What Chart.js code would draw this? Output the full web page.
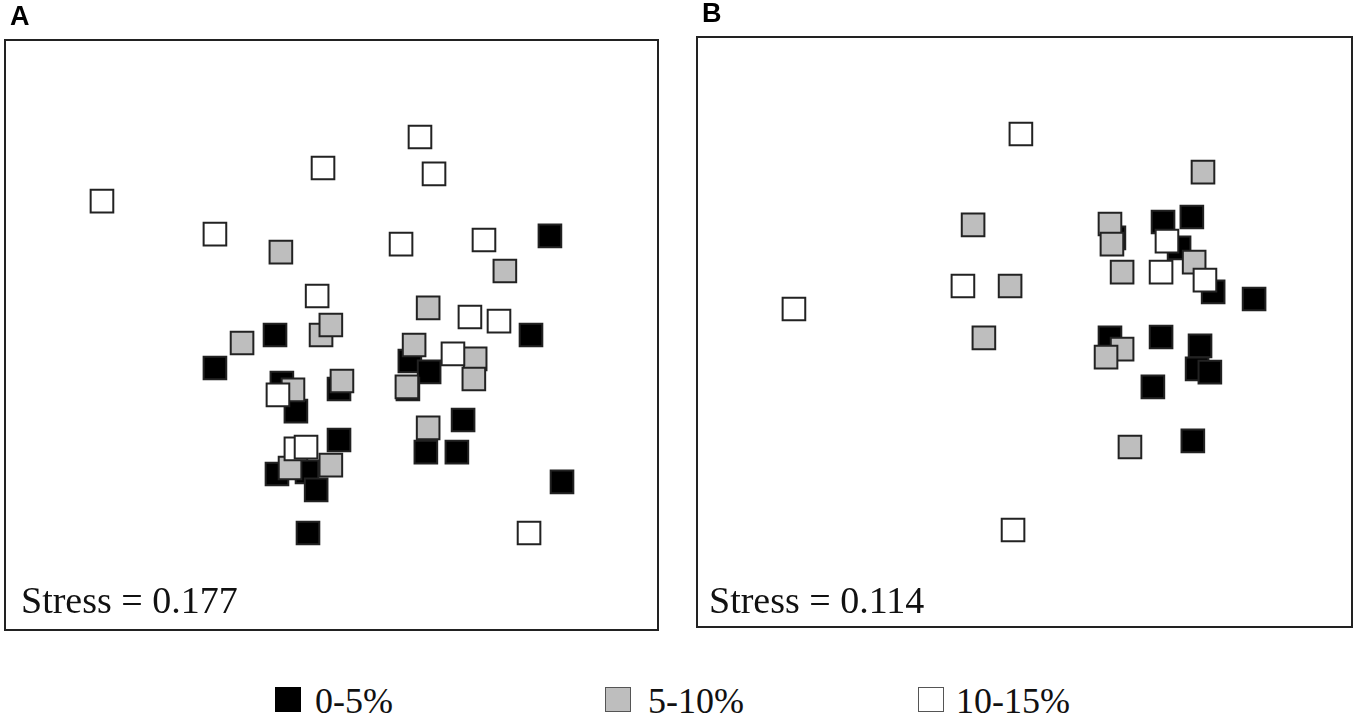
<!DOCTYPE html>
<html>
<head>
<meta charset="utf-8">
<script src="https://cdn.jsdelivr.net/npm/chart.js@4.4.1/dist/chart.umd.min.js"></script>
<style>
  body { margin: 0; background: #fff; width: 1358px; height: 719px; position: relative; overflow: hidden; }
  .panel { position: absolute; top: 0; }
  #legend span.item { position: absolute; top: 681px; font-family: "Liberation Serif", "Times New Roman", serif; font-size: 36px; line-height: 40px; color: #111; white-space: nowrap; }
  #legend span.box { position: absolute; top: 6px; width: 24px; height: 23px; border: 1px solid #555; }
</style>
</head>
<body>
<div class="panel" style="left:0; width:664px; height:636px;"><canvas id="chartA"></canvas></div>
<div class="panel" style="left:690px; width:668px; height:636px;"><canvas id="chartB"></canvas></div>
<div id="legend"></div>
<script>
// groups (depth classes) and their fills
const groups = ['0-5%', '5-10%', '10-15%'];
const groupFills = ['#000000', '#bebebe', '#ffffff'];

// panel A, NMDS coordinates (axes are -1..1 in both directions)
const aBlackX = [0.669, -0.173, -0.357, 0.611, -0.152, -0.109, 0.023, 0.240, 0.299, 0.234, 0.403, 0.023, 0.289, 0.384, -0.167, -0.075, -0.047, 0.706, -0.072];
const aBlackY = [0.336, 0.000, -0.112, 0.000, -0.163, -0.258, -0.183, -0.088, -0.125, -0.183, -0.288, -0.356, -0.397, -0.397, -0.471, -0.464, -0.525, -0.498, -0.671];
const aGrayX = [-0.155, 0.531, -0.274, -0.032, -0.002, 0.296, 0.253, 0.440, 0.436, 0.032, -0.118, 0.231, 0.296, -0.127, -0.002];
const aGrayY = [0.281, 0.217, -0.027, 0.000, 0.034, 0.092, -0.034, -0.081, -0.149, -0.156, -0.186, -0.176, -0.315, -0.451, -0.441];
const aWhiteX = [-0.703, -0.357, -0.026, 0.271, 0.314, 0.213, 0.467, -0.044, 0.424, 0.513, 0.372, -0.164, -0.109, -0.078, 0.605];
const aWhiteY = [0.454, 0.342, 0.566, 0.671, 0.546, 0.308, 0.322, 0.132, 0.061, 0.047, -0.064, -0.203, -0.386, -0.380, -0.671];

// panel B
const bBlackX = [0.423, 0.511, 0.472, 0.273, 0.576, 0.701, 0.261, 0.417, 0.536, 0.527, 0.566, 0.392, 0.514];
const bBlackY = [0.373, 0.390, 0.285, 0.319, 0.136, 0.112, -0.020, -0.017, -0.047, -0.125, -0.136, -0.186, -0.369];
const bGrayX = [0.545, -0.157, 0.261, 0.267, -0.044, 0.298, 0.518, -0.124, 0.298, 0.249, 0.322];
const bGrayY = [0.542, 0.363, 0.366, 0.298, 0.156, 0.203, 0.237, -0.020, -0.058, -0.085, -0.390];
const bWhiteX = [-0.011, -0.188, -0.704, 0.435, 0.417, 0.551, -0.035];
const bWhiteY = [0.671, 0.156, 0.078, 0.308, 0.203, 0.176, -0.671];

const stressA = 'Stress = 0.177';
const stressB = 'Stress = 0.114';

function pts(xs, ys) {
  return xs.map((x, i) => ({ x: x, y: ys[i] }));
}

function makeDatasets(series) {
  return series.map((s, i) => ({
    label: groups[i],
    data: pts(s[0], s[1]),
    backgroundColor: groupFills[i],
    borderColor: '#222',
    borderWidth: 2,
    pointStyle: 'rect',
    pointRadius: 16,
    pointHoverRadius: 16,
    order: 3 - i   // white on top, black underneath
  }));
}

// frame, panel letter and stress value
const framePlugin = {
  id: 'frame',
  afterDraw(chart, args, opts) {
    const { ctx, chartArea: a } = chart;
    ctx.save();
    ctx.strokeStyle = '#222';
    ctx.lineWidth = 2;
    ctx.strokeRect(a.left, a.top, a.right - a.left, a.bottom - a.top);
    ctx.fillStyle = '#000';
    ctx.font = 'bold 27px "Liberation Sans", Arial, sans-serif';
    ctx.textBaseline = 'alphabetic';
    ctx.fillText(opts.letter, a.left + 5, a.top - 15);
    ctx.fillStyle = '#111';
    ctx.font = '38px "Liberation Serif", "Times New Roman", serif';
    ctx.fillText(opts.stress, a.left + opts.textDx, a.bottom - opts.textDy);
    ctx.restore();
  }
};

function makeChart(id, series, pad, letter, stress, textDx, textDy) {
  return new Chart(document.getElementById(id), {
    type: 'scatter',
    data: { datasets: makeDatasets(series) },
    options: {
      responsive: true,
      maintainAspectRatio: false,
      animation: false,
      events: [],
      layout: { padding: pad, autoPadding: false },
      scales: {
        x: { display: false, min: -1, max: 1 },
        y: { display: false, min: -1, max: 1 }
      },
      plugins: {
        legend: { display: false },
        tooltip: { enabled: false },
        frame: { letter: letter, stress: stress, textDx: textDx, textDy: textDy }
      }
    },
    plugins: [framePlugin]
  });
}

makeChart('chartA', [[aBlackX, aBlackY], [aGrayX, aGrayY], [aWhiteX, aWhiteY]],
  { left: 5, top: 40, right: 6, bottom: 6 }, 'A', stressA, 16, 17);
makeChart('chartB', [[bBlackX, bBlackY], [bGrayX, bGrayY], [bWhiteX, bWhiteY]],
  { left: 7, top: 37, right: 6, bottom: 9 }, 'B', stressB, 12, 14);

// shared legend under both panels
const legendLeft = [275, 605, 918];
const legendEl = document.getElementById('legend');
groups.forEach((g, i) => {
  const item = document.createElement('span');
  item.className = 'item';
  item.style.left = legendLeft[i] + 'px';
  item.style.paddingLeft = (i === 1 ? 43 : 40) - (i === 2 ? 2 : 0) + 'px';
  const box = document.createElement('span');
  box.className = 'box';
  box.style.left = '0px';
  box.style.background = groupFills[i];
  if (i === 0) box.style.borderColor = '#000';
  item.appendChild(box);
  item.appendChild(document.createTextNode(g));
  legendEl.appendChild(item);
});
</script>
</body>
</html>
